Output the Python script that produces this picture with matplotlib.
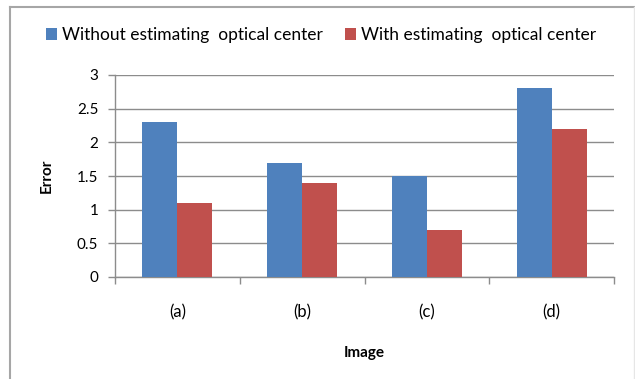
import matplotlib
matplotlib.use("Agg")
import matplotlib.pyplot as plt
from matplotlib.patches import Patch
from matplotlib.lines import Line2D
import numpy as np

categories = ["(a)", "(b)", "(c)", "(d)"]
without_center = [2.3, 1.7, 1.5, 2.8]
with_center = [1.1, 1.4, 0.7, 2.2]
series_names = ["Without estimating  optical center", "With estimating  optical center"]
y_ticks = [0, 0.5, 1, 1.5, 2, 2.5, 3]
y_tick_labels = ["0", "0.5", "1", "1.5", "2", "2.5", "3"]

BLUE = "#4F81BD"
RED = "#C0504D"
GRID = "#8C8C8C"

plt.rcParams["font.family"] = ["Lato", "DejaVu Sans"]

fig = plt.figure(figsize=(6.35, 3.79), dpi=100)
ax = fig.add_axes([115 / 635, 1 - 277 / 379, (614 - 115) / 635, (277 - 75) / 379])

x = np.arange(len(categories))
w = 0.28
ax.bar(x - w / 2, without_center, width=w, color=BLUE, zorder=3)
ax.bar(x + w / 2, with_center, width=w, color=RED, zorder=3)

ax.set_xlim(-0.5, len(categories) - 0.5)
ax.set_ylim(0, 3)
ax.set_yticks(y_ticks)
ax.set_yticklabels(y_tick_labels, fontsize=11)
ax.yaxis.grid(True, color=GRID, linewidth=1, zorder=0)

ax.set_xticks(np.arange(-0.5, len(categories)), minor=False)
ax.set_xticklabels([""] * (len(categories) + 1))
ax.set_xticks(x, minor=True)
ax.set_xticklabels(categories, minor=True, fontsize=12)
ax.tick_params(axis="x", which="major", length=5, color=GRID, width=1)
ax.tick_params(axis="x", which="minor", length=0, pad=20)
ax.tick_params(axis="y", length=5, color=GRID, width=1, pad=7)

for side in ["top", "right"]:
    ax.spines[side].set_visible(False)
for side in ["left", "bottom"]:
    ax.spines[side].set_color(GRID)
    ax.spines[side].set_linewidth(1)

ax.set_ylabel("Error", fontsize=11, fontweight="bold", labelpad=17)
ax.set_xlabel("Image", fontsize=11, fontweight="bold", labelpad=18)

handles = [Patch(facecolor=BLUE, edgecolor="none"), Patch(facecolor=RED, edgecolor="none")]
fig.legend(handles, series_names, loc="center", bbox_to_anchor=(0.506, 1 - 35 / 379),
           ncol=2, frameon=False, fontsize=12.5, handlelength=0.62, handleheight=0.62,
           handletextpad=0.3, columnspacing=1.3)

# outer chart frame
fig.add_artist(Line2D([10 / 635, 10 / 635], [0, 1 - 7 / 379], color="#A6A6A6", linewidth=1.5,
                      transform=fig.transFigure))
fig.add_artist(Line2D([10 / 635, 1.0], [1 - 7 / 379, 1 - 7 / 379], color="#A6A6A6", linewidth=1.5,
                      transform=fig.transFigure))
fig.add_artist(Line2D([633.5 / 635, 633.5 / 635], [0, 1 - 7 / 379], color="#E6E6E6", linewidth=1,
                      transform=fig.transFigure))

fig.savefig("out.png", dpi=100)
